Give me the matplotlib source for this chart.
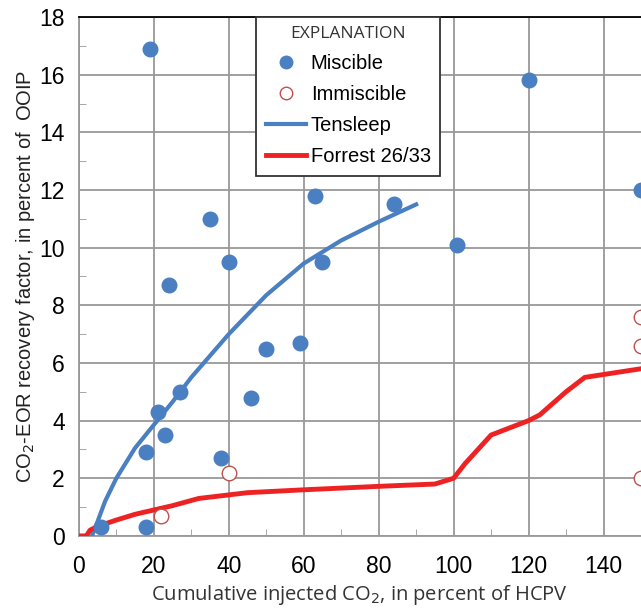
import matplotlib
matplotlib.use("Agg")
import matplotlib.pyplot as plt
from matplotlib.lines import Line2D
from matplotlib.ticker import MultipleLocator

plt.rcParams['font.family'] = ['Liberation Sans', 'DejaVu Sans']

# miscible projects
mis_x = [19, 120, 150, 63, 84, 35, 101, 40, 65, 24, 59, 50, 27, 46, 21, 23, 18, 38, 6, 18]
mis_y = [16.9, 15.8, 12.0, 11.8, 11.5, 11.0, 10.1, 9.5, 9.5, 8.7, 6.7, 6.5, 5.0, 4.8, 4.3, 3.5, 2.9, 2.7, 0.3, 0.3]
# immiscible projects
imm_x = [40, 22, 150, 150, 150]
imm_y = [2.2, 0.7, 7.6, 6.6, 2.0]
# Tensleep curve
ten_x = [3.5, 5, 7, 10, 15, 20, 25, 30, 40, 50, 60, 70, 80, 90]
ten_y = [0, 0.5, 1.2, 2.0, 3.05, 3.85, 4.65, 5.5, 7.0, 8.35, 9.45, 10.25, 10.9, 11.5]
# Forrest 26/33 curve
for_x = [0, 2, 3, 5, 10, 15, 20, 25, 32, 45, 60, 80, 95, 100, 103, 110, 120, 123, 130, 135, 150]
for_y = [0, 0, 0.2, 0.33, 0.55, 0.75, 0.9, 1.05, 1.3, 1.5, 1.6, 1.72, 1.8, 2.0, 2.5, 3.5, 4.0, 4.2, 5.0, 5.5, 5.8]

blue = '#4a7fc1'
red = '#ee2222'

fig = plt.figure(figsize=(6.41, 6.09), dpi=100)
ax = fig.add_axes([0.123, 0.12, 0.877, 0.852])

ax.plot(ten_x, ten_y, color=blue, lw=3, zorder=3)
ax.plot(for_x, for_y, color=red, lw=3.5, zorder=3)
ax.scatter(mis_x, mis_y, s=110, color=blue, zorder=4)
ax.scatter(imm_x, imm_y, s=110, facecolors='white', edgecolors='#c0504d', lw=1, zorder=4)

ax.set_xlim(0, 150)
ax.set_ylim(0, 18)
ax.xaxis.set_major_locator(MultipleLocator(20))
ax.xaxis.set_minor_locator(MultipleLocator(10))
ax.yaxis.set_major_locator(MultipleLocator(2))
ax.yaxis.set_minor_locator(MultipleLocator(1))
ax.grid(True, which='major', color='#999999', lw=1.3)
ax.set_axisbelow(True)
ax.tick_params(which='both', direction='in', color='#999999', labelsize=16.5)
ax.tick_params(axis='x', pad=14)
ax.tick_params(axis='y', pad=10)
ax.tick_params(which='major', length=0)
ax.tick_params(which='minor', length=5)
ax.spines['right'].set_visible(False)
for s in ['left', 'bottom']:
    ax.spines[s].set_color('#999999')
    ax.spines[s].set_linewidth(1.3)
ax.spines['top'].set_color('black')
ax.spines['top'].set_linewidth(1.3)

ax.set_xlabel('Cumulative injected CO$_2$, in percent of HCPV', fontsize=14.5,
              color='#333333', family='Open Sans', labelpad=3)
ax.set_ylabel('CO$_2$-EOR recovery factor, in percent of  OOIP', fontsize=14.5,
              color='#222222', labelpad=2)

handles = [
    Line2D([], [], marker='o', ls='none', color=blue, markersize=9),
    Line2D([], [], marker='o', ls='none', markerfacecolor='white', markeredgecolor='#c0504d', markersize=9),
    Line2D([], [], color=blue, lw=3),
    Line2D([], [], color=red, lw=3.5),
]
leg = ax.legend(handles, ['Miscible', 'Immiscible', 'Tensleep', 'Forrest 26/33'],
                title='EXPLANATION', loc='upper left', bbox_to_anchor=(0.316, 1.0),
                fontsize=14.5, title_fontsize=12.5, fancybox=False, framealpha=1,
                edgecolor='#333333', handlelength=2.0, handletextpad=0.25,
                labelspacing=0.6, borderpad=0.45, borderaxespad=0)
leg.get_frame().set_linewidth(1.3)
leg.get_title().set_color('#333333')
leg.get_title().set_family('Open Sans')

fig.savefig('out.png', dpi=100)
